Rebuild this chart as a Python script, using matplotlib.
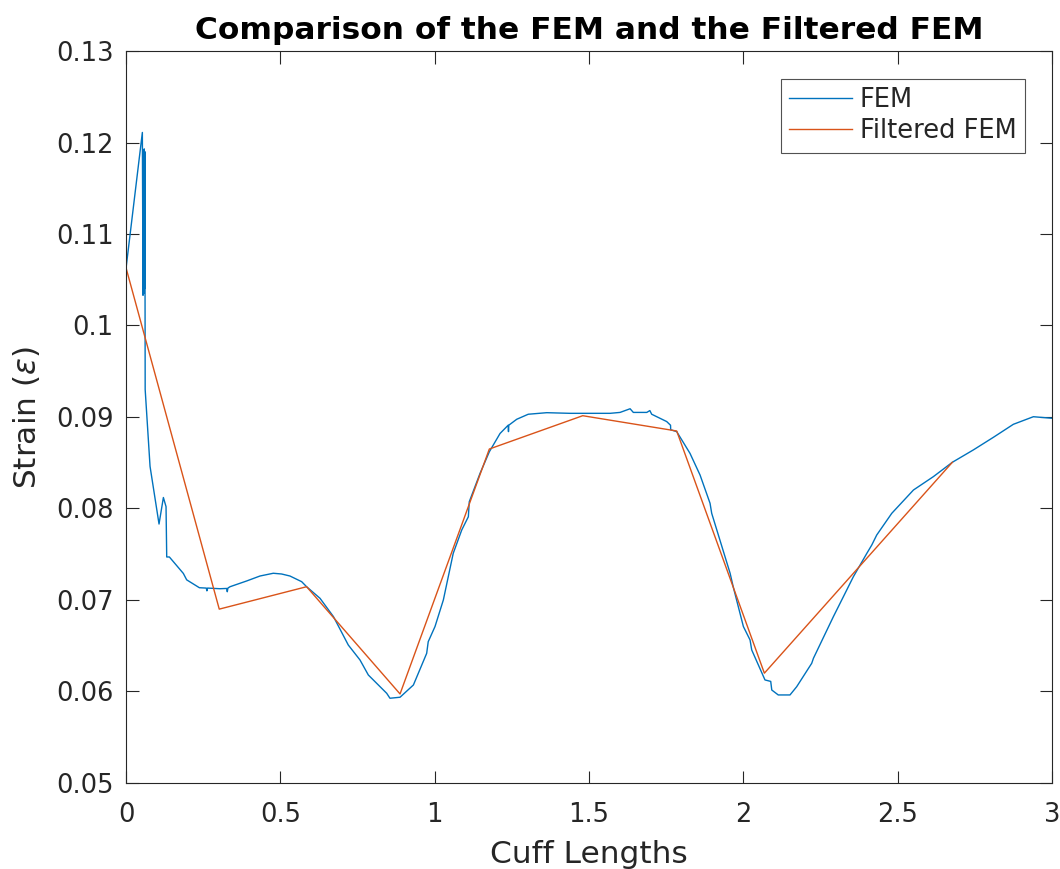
import matplotlib
matplotlib.use("Agg")
import matplotlib.pyplot as plt

# FEM curve (Cuff Lengths, Strain)
fem_x = [0.0, 0.0005, 0.0529, 0.0550, 0.0565, 0.0575, 0.0590, 0.0600, 0.0610,
         0.0616, 0.0620, 0.0778, 0.1069, 0.1210, 0.1296, 0.1318, 0.1404, 0.1857,
         0.1965, 0.2376, 0.2600, 0.2620, 0.2640, 0.3045, 0.3260, 0.3280, 0.3300,
         0.3370, 0.3910, 0.4340, 0.4770, 0.5040, 0.5310, 0.5690, 0.5850, 0.6285,
         0.6720, 0.7200, 0.7580, 0.7850, 0.8445, 0.8550, 0.8877, 0.9310, 0.9740,
         0.9790, 1.0010, 1.0280, 1.0600, 1.0876, 1.1090, 1.1120, 1.1470, 1.1770,
         1.2117, 1.2380, 1.2390, 1.2400, 1.2657, 1.3030, 1.3630, 1.4384, 1.5030,
         1.5680, 1.6005, 1.6330, 1.6435, 1.6870, 1.6970, 1.7030, 1.7516, 1.7640,
         1.7645, 1.7840, 1.8270, 1.8596, 1.8920, 1.8974, 1.9570, 1.9670, 2.0000,
         2.0216, 2.0270, 2.0700, 2.0886, 2.0920, 2.1130, 2.1510, 2.1727, 2.2214,
         2.2270, 2.2916, 2.3240, 2.3563, 2.4000, 2.4160, 2.4320, 2.4807, 2.5510,
         2.6155, 2.6770, 2.7450, 2.8100, 2.8746, 2.9395, 3.0000]
fem_y = [0.1108, 0.1064, 0.1211, 0.1033, 0.1190, 0.1035, 0.1193, 0.1040, 0.1190,
         0.1035, 0.0930, 0.0846, 0.0783, 0.0812, 0.0802, 0.0747, 0.0747, 0.0729,
         0.0722, 0.07134, 0.07130, 0.07100, 0.07130, 0.07123, 0.07126, 0.07090,
         0.07130, 0.07145, 0.07208, 0.07262, 0.07292, 0.07284, 0.07262, 0.07200,
         0.07145, 0.07018, 0.06818, 0.06508, 0.06344, 0.06180, 0.05980, 0.05926,
         0.05937, 0.06071, 0.06417, 0.06544, 0.06710, 0.07000, 0.07510, 0.07765,
         0.07910, 0.08074, 0.08385, 0.08620, 0.08820, 0.08910, 0.08840, 0.08910,
         0.08975, 0.09030, 0.09047, 0.09040, 0.09040, 0.09040, 0.09050, 0.09090,
         0.09050, 0.09050, 0.09070, 0.09030, 0.08950, 0.08910, 0.08860, 0.08840,
         0.08603, 0.08366, 0.08057, 0.07947, 0.07292, 0.07145, 0.06710, 0.06563,
         0.06454, 0.06126, 0.06110, 0.06016, 0.05962, 0.05962, 0.06052, 0.06308,
         0.06363, 0.06818, 0.07036, 0.07254, 0.07510, 0.07601, 0.07710, 0.07947,
         0.08202, 0.08348, 0.08505, 0.08640, 0.08778, 0.08920, 0.09003, 0.08986]

# Filtered FEM
filt_x = [0.0, 0.302, 0.585, 0.8877, 1.177, 1.4795, 1.784, 2.068, 2.677]
filt_y = [0.1063, 0.0690, 0.07145, 0.05973, 0.0865, 0.09014, 0.08847, 0.0620, 0.08505]

xticks = [0, 0.5, 1, 1.5, 2, 2.5, 3]
yticks = [0.05, 0.06, 0.07, 0.08, 0.09, 0.1, 0.11, 0.12, 0.13]
ytick_labels = ["0.05", "0.06", "0.07", "0.08", "0.09", "0.1", "0.11", "0.12", "0.13"]

plt.rcParams['font.family'] = ['DejaVu Sans']
plt.rcParams['mathtext.fontset'] = 'dejavusans'

fig = plt.figure(figsize=(10.6, 8.69), dpi=100)
ax = fig.add_axes([0.1189, 0.0990, 0.8736, 0.8423])

ax.plot(fem_x, fem_y, color='#0072BD', lw=1.0, label='FEM')
ax.plot(filt_x, filt_y, color='#D95319', lw=1.0, label='Filtered FEM')

ax.set_xlim(0, 3)
ax.set_ylim(0.05, 0.13)
ax.set_xticks(xticks)
ax.set_xticklabels([f"{t:g}" for t in xticks])
ax.set_yticks(yticks)
ax.set_yticklabels(ytick_labels)

axcol = '#262626'
for s in ax.spines.values():
    s.set_color(axcol)
    s.set_linewidth(0.8)
ax.tick_params(direction='in', length=9, width=0.8, colors=axcol,
               labelcolor=axcol, labelsize=18.5, top=True, right=True)
ax.tick_params(axis='x', pad=14)
ax.tick_params(axis='y', pad=9)

ax.set_xlabel('Cuff Lengths', fontsize=22.5, color=axcol, labelpad=8)
ax.set_ylabel(r'Strain ($\epsilon$)', fontsize=22.5, color=axcol, labelpad=10)
ax.set_title('Comparison of the FEM and the Filtered FEM', fontsize=22.5,
             fontweight='bold', color='black', pad=9)

leg = ax.legend(loc='upper right', fontsize=18.5, frameon=True, fancybox=False,
                edgecolor=axcol, handlelength=2.45, borderpad=0.33,
                labelspacing=0.2, handletextpad=0.3, borderaxespad=0,
                bbox_to_anchor=(0.971, 0.962))
leg.get_frame().set_linewidth(0.8)
for t in leg.get_texts():
    t.set_color(axcol)

fig.savefig('out.png', dpi=100)
